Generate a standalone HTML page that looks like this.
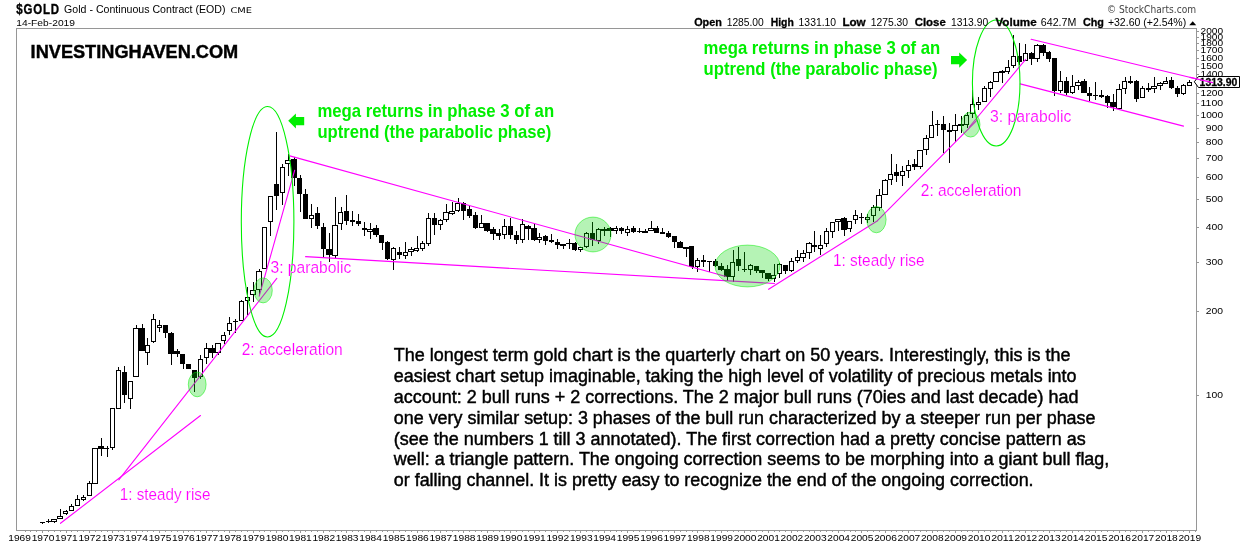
<!DOCTYPE html>
<html><head><meta charset="utf-8"><title>$GOLD Gold - Continuous Contract (EOD)</title>
<style>html,body{margin:0;padding:0;background:#fff}svg{display:block}text{font-family:"Liberation Sans",Arial,sans-serif}.m{fill:#f0f;font-size:16.3px;stroke:#fff;stroke-width:.15px;paint-order:fill stroke}.g{fill:#00ee00;font-weight:bold;font-size:18.5px}.p{fill:#000;font-size:18px;stroke:#000;stroke-width:.45px}.ax{fill:#000;font-size:9.7px}.hb{font-weight:bold;font-size:11px;stroke:#000;stroke-width:.3px}.hn{font-size:10.3px}</style></head><body>
<svg style="will-change:transform" width="1240" height="546" viewBox="0 0 1240 546">
<rect width="1240" height="546" fill="#fff"/>
<g shape-rendering="crispEdges" stroke="#969696" stroke-width="1" fill="none">
<rect x="16.5" y="28.5" width="1180.0" height="502.0"/>
<line x1="1196.5" y1="31.5" x2="1199.0" y2="31.5"/>
<line x1="1196.5" y1="37.5" x2="1199.0" y2="37.5"/>
<line x1="1196.5" y1="43.5" x2="1199.0" y2="43.5"/>
<line x1="1196.5" y1="50.5" x2="1199.0" y2="50.5"/>
<line x1="1196.5" y1="58.5" x2="1199.0" y2="58.5"/>
<line x1="1196.5" y1="66.5" x2="1199.0" y2="66.5"/>
<line x1="1196.5" y1="74.5" x2="1199.0" y2="74.5"/>
<line x1="1196.5" y1="83.5" x2="1199.0" y2="83.5"/>
<line x1="1196.5" y1="93.5" x2="1199.0" y2="93.5"/>
<line x1="1196.5" y1="103.5" x2="1199.0" y2="103.5"/>
<line x1="1196.5" y1="115.5" x2="1199.0" y2="115.5"/>
<line x1="1196.5" y1="128.5" x2="1199.0" y2="128.5"/>
<line x1="1196.5" y1="142.5" x2="1199.0" y2="142.5"/>
<line x1="1196.5" y1="158.5" x2="1199.0" y2="158.5"/>
<line x1="1196.5" y1="177.5" x2="1199.0" y2="177.5"/>
<line x1="1196.5" y1="199.5" x2="1199.0" y2="199.5"/>
<line x1="1196.5" y1="227.5" x2="1199.0" y2="227.5"/>
<line x1="1196.5" y1="262.5" x2="1199.0" y2="262.5"/>
<line x1="1196.5" y1="311.5" x2="1199.0" y2="311.5"/>
<line x1="1196.5" y1="395.5" x2="1199.0" y2="395.5"/>
<line x1="25.5" y1="530.5" x2="25.5" y2="532.0"/>
<line x1="30.5" y1="530.5" x2="30.5" y2="532.0"/>
<line x1="36.5" y1="530.5" x2="36.5" y2="532.0"/>
<line x1="42.5" y1="530.5" x2="42.5" y2="533.0"/>
<line x1="48.5" y1="530.5" x2="48.5" y2="532.0"/>
<line x1="54.5" y1="530.5" x2="54.5" y2="532.0"/>
<line x1="60.5" y1="530.5" x2="60.5" y2="532.0"/>
<line x1="66.5" y1="530.5" x2="66.5" y2="533.0"/>
<line x1="71.5" y1="530.5" x2="71.5" y2="532.0"/>
<line x1="77.5" y1="530.5" x2="77.5" y2="532.0"/>
<line x1="83.5" y1="530.5" x2="83.5" y2="532.0"/>
<line x1="89.5" y1="530.5" x2="89.5" y2="533.0"/>
<line x1="95.5" y1="530.5" x2="95.5" y2="532.0"/>
<line x1="101.5" y1="530.5" x2="101.5" y2="532.0"/>
<line x1="107.5" y1="530.5" x2="107.5" y2="532.0"/>
<line x1="112.5" y1="530.5" x2="112.5" y2="533.0"/>
<line x1="118.5" y1="530.5" x2="118.5" y2="532.0"/>
<line x1="124.5" y1="530.5" x2="124.5" y2="532.0"/>
<line x1="130.5" y1="530.5" x2="130.5" y2="532.0"/>
<line x1="136.5" y1="530.5" x2="136.5" y2="533.0"/>
<line x1="142.5" y1="530.5" x2="142.5" y2="532.0"/>
<line x1="147.5" y1="530.5" x2="147.5" y2="532.0"/>
<line x1="153.5" y1="530.5" x2="153.5" y2="532.0"/>
<line x1="159.5" y1="530.5" x2="159.5" y2="533.0"/>
<line x1="165.5" y1="530.5" x2="165.5" y2="532.0"/>
<line x1="171.5" y1="530.5" x2="171.5" y2="532.0"/>
<line x1="177.5" y1="530.5" x2="177.5" y2="532.0"/>
<line x1="183.5" y1="530.5" x2="183.5" y2="533.0"/>
<line x1="188.5" y1="530.5" x2="188.5" y2="532.0"/>
<line x1="194.5" y1="530.5" x2="194.5" y2="532.0"/>
<line x1="200.5" y1="530.5" x2="200.5" y2="532.0"/>
<line x1="206.5" y1="530.5" x2="206.5" y2="533.0"/>
<line x1="212.5" y1="530.5" x2="212.5" y2="532.0"/>
<line x1="218.5" y1="530.5" x2="218.5" y2="532.0"/>
<line x1="224.5" y1="530.5" x2="224.5" y2="532.0"/>
<line x1="229.5" y1="530.5" x2="229.5" y2="533.0"/>
<line x1="235.5" y1="530.5" x2="235.5" y2="532.0"/>
<line x1="241.5" y1="530.5" x2="241.5" y2="532.0"/>
<line x1="247.5" y1="530.5" x2="247.5" y2="532.0"/>
<line x1="253.5" y1="530.5" x2="253.5" y2="533.0"/>
<line x1="259.5" y1="530.5" x2="259.5" y2="532.0"/>
<line x1="264.5" y1="530.5" x2="264.5" y2="532.0"/>
<line x1="270.5" y1="530.5" x2="270.5" y2="532.0"/>
<line x1="276.5" y1="530.5" x2="276.5" y2="533.0"/>
<line x1="282.5" y1="530.5" x2="282.5" y2="532.0"/>
<line x1="288.5" y1="530.5" x2="288.5" y2="532.0"/>
<line x1="294.5" y1="530.5" x2="294.5" y2="532.0"/>
<line x1="300.5" y1="530.5" x2="300.5" y2="533.0"/>
<line x1="305.5" y1="530.5" x2="305.5" y2="532.0"/>
<line x1="311.5" y1="530.5" x2="311.5" y2="532.0"/>
<line x1="317.5" y1="530.5" x2="317.5" y2="532.0"/>
<line x1="323.5" y1="530.5" x2="323.5" y2="533.0"/>
<line x1="329.5" y1="530.5" x2="329.5" y2="532.0"/>
<line x1="335.5" y1="530.5" x2="335.5" y2="532.0"/>
<line x1="341.5" y1="530.5" x2="341.5" y2="532.0"/>
<line x1="346.5" y1="530.5" x2="346.5" y2="533.0"/>
<line x1="352.5" y1="530.5" x2="352.5" y2="532.0"/>
<line x1="358.5" y1="530.5" x2="358.5" y2="532.0"/>
<line x1="364.5" y1="530.5" x2="364.5" y2="532.0"/>
<line x1="370.5" y1="530.5" x2="370.5" y2="533.0"/>
<line x1="376.5" y1="530.5" x2="376.5" y2="532.0"/>
<line x1="382.5" y1="530.5" x2="382.5" y2="532.0"/>
<line x1="387.5" y1="530.5" x2="387.5" y2="532.0"/>
<line x1="393.5" y1="530.5" x2="393.5" y2="533.0"/>
<line x1="399.5" y1="530.5" x2="399.5" y2="532.0"/>
<line x1="405.5" y1="530.5" x2="405.5" y2="532.0"/>
<line x1="411.5" y1="530.5" x2="411.5" y2="532.0"/>
<line x1="417.5" y1="530.5" x2="417.5" y2="533.0"/>
<line x1="422.5" y1="530.5" x2="422.5" y2="532.0"/>
<line x1="428.5" y1="530.5" x2="428.5" y2="532.0"/>
<line x1="434.5" y1="530.5" x2="434.5" y2="532.0"/>
<line x1="440.5" y1="530.5" x2="440.5" y2="533.0"/>
<line x1="446.5" y1="530.5" x2="446.5" y2="532.0"/>
<line x1="452.5" y1="530.5" x2="452.5" y2="532.0"/>
<line x1="458.5" y1="530.5" x2="458.5" y2="532.0"/>
<line x1="463.5" y1="530.5" x2="463.5" y2="533.0"/>
<line x1="469.5" y1="530.5" x2="469.5" y2="532.0"/>
<line x1="475.5" y1="530.5" x2="475.5" y2="532.0"/>
<line x1="481.5" y1="530.5" x2="481.5" y2="532.0"/>
<line x1="487.5" y1="530.5" x2="487.5" y2="533.0"/>
<line x1="493.5" y1="530.5" x2="493.5" y2="532.0"/>
<line x1="499.5" y1="530.5" x2="499.5" y2="532.0"/>
<line x1="504.5" y1="530.5" x2="504.5" y2="532.0"/>
<line x1="510.5" y1="530.5" x2="510.5" y2="533.0"/>
<line x1="516.5" y1="530.5" x2="516.5" y2="532.0"/>
<line x1="522.5" y1="530.5" x2="522.5" y2="532.0"/>
<line x1="528.5" y1="530.5" x2="528.5" y2="532.0"/>
<line x1="534.5" y1="530.5" x2="534.5" y2="533.0"/>
<line x1="539.5" y1="530.5" x2="539.5" y2="532.0"/>
<line x1="545.5" y1="530.5" x2="545.5" y2="532.0"/>
<line x1="551.5" y1="530.5" x2="551.5" y2="532.0"/>
<line x1="557.5" y1="530.5" x2="557.5" y2="533.0"/>
<line x1="563.5" y1="530.5" x2="563.5" y2="532.0"/>
<line x1="569.5" y1="530.5" x2="569.5" y2="532.0"/>
<line x1="575.5" y1="530.5" x2="575.5" y2="532.0"/>
<line x1="580.5" y1="530.5" x2="580.5" y2="533.0"/>
<line x1="586.5" y1="530.5" x2="586.5" y2="532.0"/>
<line x1="592.5" y1="530.5" x2="592.5" y2="532.0"/>
<line x1="598.5" y1="530.5" x2="598.5" y2="532.0"/>
<line x1="604.5" y1="530.5" x2="604.5" y2="533.0"/>
<line x1="610.5" y1="530.5" x2="610.5" y2="532.0"/>
<line x1="616.5" y1="530.5" x2="616.5" y2="532.0"/>
<line x1="621.5" y1="530.5" x2="621.5" y2="532.0"/>
<line x1="627.5" y1="530.5" x2="627.5" y2="533.0"/>
<line x1="633.5" y1="530.5" x2="633.5" y2="532.0"/>
<line x1="639.5" y1="530.5" x2="639.5" y2="532.0"/>
<line x1="645.5" y1="530.5" x2="645.5" y2="532.0"/>
<line x1="651.5" y1="530.5" x2="651.5" y2="533.0"/>
<line x1="657.5" y1="530.5" x2="657.5" y2="532.0"/>
<line x1="662.5" y1="530.5" x2="662.5" y2="532.0"/>
<line x1="668.5" y1="530.5" x2="668.5" y2="532.0"/>
<line x1="674.5" y1="530.5" x2="674.5" y2="533.0"/>
<line x1="680.5" y1="530.5" x2="680.5" y2="532.0"/>
<line x1="686.5" y1="530.5" x2="686.5" y2="532.0"/>
<line x1="692.5" y1="530.5" x2="692.5" y2="532.0"/>
<line x1="697.5" y1="530.5" x2="697.5" y2="533.0"/>
<line x1="703.5" y1="530.5" x2="703.5" y2="532.0"/>
<line x1="709.5" y1="530.5" x2="709.5" y2="532.0"/>
<line x1="715.5" y1="530.5" x2="715.5" y2="532.0"/>
<line x1="721.5" y1="530.5" x2="721.5" y2="533.0"/>
<line x1="727.5" y1="530.5" x2="727.5" y2="532.0"/>
<line x1="733.5" y1="530.5" x2="733.5" y2="532.0"/>
<line x1="738.5" y1="530.5" x2="738.5" y2="532.0"/>
<line x1="744.5" y1="530.5" x2="744.5" y2="533.0"/>
<line x1="750.5" y1="530.5" x2="750.5" y2="532.0"/>
<line x1="756.5" y1="530.5" x2="756.5" y2="532.0"/>
<line x1="762.5" y1="530.5" x2="762.5" y2="532.0"/>
<line x1="768.5" y1="530.5" x2="768.5" y2="533.0"/>
<line x1="774.5" y1="530.5" x2="774.5" y2="532.0"/>
<line x1="779.5" y1="530.5" x2="779.5" y2="532.0"/>
<line x1="785.5" y1="530.5" x2="785.5" y2="532.0"/>
<line x1="791.5" y1="530.5" x2="791.5" y2="533.0"/>
<line x1="797.5" y1="530.5" x2="797.5" y2="532.0"/>
<line x1="803.5" y1="530.5" x2="803.5" y2="532.0"/>
<line x1="809.5" y1="530.5" x2="809.5" y2="532.0"/>
<line x1="814.5" y1="530.5" x2="814.5" y2="533.0"/>
<line x1="820.5" y1="530.5" x2="820.5" y2="532.0"/>
<line x1="826.5" y1="530.5" x2="826.5" y2="532.0"/>
<line x1="832.5" y1="530.5" x2="832.5" y2="532.0"/>
<line x1="838.5" y1="530.5" x2="838.5" y2="533.0"/>
<line x1="844.5" y1="530.5" x2="844.5" y2="532.0"/>
<line x1="850.5" y1="530.5" x2="850.5" y2="532.0"/>
<line x1="855.5" y1="530.5" x2="855.5" y2="532.0"/>
<line x1="861.5" y1="530.5" x2="861.5" y2="533.0"/>
<line x1="867.5" y1="530.5" x2="867.5" y2="532.0"/>
<line x1="873.5" y1="530.5" x2="873.5" y2="532.0"/>
<line x1="879.5" y1="530.5" x2="879.5" y2="532.0"/>
<line x1="885.5" y1="530.5" x2="885.5" y2="533.0"/>
<line x1="891.5" y1="530.5" x2="891.5" y2="532.0"/>
<line x1="896.5" y1="530.5" x2="896.5" y2="532.0"/>
<line x1="902.5" y1="530.5" x2="902.5" y2="532.0"/>
<line x1="908.5" y1="530.5" x2="908.5" y2="533.0"/>
<line x1="914.5" y1="530.5" x2="914.5" y2="532.0"/>
<line x1="920.5" y1="530.5" x2="920.5" y2="532.0"/>
<line x1="926.5" y1="530.5" x2="926.5" y2="532.0"/>
<line x1="932.5" y1="530.5" x2="932.5" y2="533.0"/>
<line x1="937.5" y1="530.5" x2="937.5" y2="532.0"/>
<line x1="943.5" y1="530.5" x2="943.5" y2="532.0"/>
<line x1="949.5" y1="530.5" x2="949.5" y2="532.0"/>
<line x1="955.5" y1="530.5" x2="955.5" y2="533.0"/>
<line x1="961.5" y1="530.5" x2="961.5" y2="532.0"/>
<line x1="967.5" y1="530.5" x2="967.5" y2="532.0"/>
<line x1="972.5" y1="530.5" x2="972.5" y2="532.0"/>
<line x1="978.5" y1="530.5" x2="978.5" y2="533.0"/>
<line x1="984.5" y1="530.5" x2="984.5" y2="532.0"/>
<line x1="990.5" y1="530.5" x2="990.5" y2="532.0"/>
<line x1="996.5" y1="530.5" x2="996.5" y2="532.0"/>
<line x1="1002.5" y1="530.5" x2="1002.5" y2="533.0"/>
<line x1="1008.5" y1="530.5" x2="1008.5" y2="532.0"/>
<line x1="1013.5" y1="530.5" x2="1013.5" y2="532.0"/>
<line x1="1019.5" y1="530.5" x2="1019.5" y2="532.0"/>
<line x1="1025.5" y1="530.5" x2="1025.5" y2="533.0"/>
<line x1="1031.5" y1="530.5" x2="1031.5" y2="532.0"/>
<line x1="1037.5" y1="530.5" x2="1037.5" y2="532.0"/>
<line x1="1043.5" y1="530.5" x2="1043.5" y2="532.0"/>
<line x1="1049.5" y1="530.5" x2="1049.5" y2="533.0"/>
<line x1="1054.5" y1="530.5" x2="1054.5" y2="532.0"/>
<line x1="1060.5" y1="530.5" x2="1060.5" y2="532.0"/>
<line x1="1066.5" y1="530.5" x2="1066.5" y2="532.0"/>
<line x1="1072.5" y1="530.5" x2="1072.5" y2="533.0"/>
<line x1="1078.5" y1="530.5" x2="1078.5" y2="532.0"/>
<line x1="1084.5" y1="530.5" x2="1084.5" y2="532.0"/>
<line x1="1089.5" y1="530.5" x2="1089.5" y2="532.0"/>
<line x1="1095.5" y1="530.5" x2="1095.5" y2="533.0"/>
<line x1="1101.5" y1="530.5" x2="1101.5" y2="532.0"/>
<line x1="1107.5" y1="530.5" x2="1107.5" y2="532.0"/>
<line x1="1113.5" y1="530.5" x2="1113.5" y2="532.0"/>
<line x1="1119.5" y1="530.5" x2="1119.5" y2="533.0"/>
<line x1="1125.5" y1="530.5" x2="1125.5" y2="532.0"/>
<line x1="1130.5" y1="530.5" x2="1130.5" y2="532.0"/>
<line x1="1136.5" y1="530.5" x2="1136.5" y2="532.0"/>
<line x1="1142.5" y1="530.5" x2="1142.5" y2="533.0"/>
<line x1="1148.5" y1="530.5" x2="1148.5" y2="532.0"/>
<line x1="1154.5" y1="530.5" x2="1154.5" y2="532.0"/>
<line x1="1160.5" y1="530.5" x2="1160.5" y2="532.0"/>
<line x1="1166.5" y1="530.5" x2="1166.5" y2="533.0"/>
<line x1="1171.5" y1="530.5" x2="1171.5" y2="532.0"/>
<line x1="1177.5" y1="530.5" x2="1177.5" y2="532.0"/>
<line x1="1183.5" y1="530.5" x2="1183.5" y2="532.0"/>
<line x1="1189.5" y1="530.5" x2="1189.5" y2="533.0"/>
<line x1="1195.5" y1="530.5" x2="1195.5" y2="532.0"/>
</g>
<g class="ax">
<text x="1200.5" y="34.0" textLength="22.6" lengthAdjust="spacingAndGlyphs">2000</text>
<text x="1200.5" y="40.0" textLength="22.6" lengthAdjust="spacingAndGlyphs">1900</text>
<text x="1200.5" y="46.0" textLength="22.6" lengthAdjust="spacingAndGlyphs">1800</text>
<text x="1200.5" y="53.0" textLength="22.6" lengthAdjust="spacingAndGlyphs">1700</text>
<text x="1200.5" y="61.0" textLength="22.6" lengthAdjust="spacingAndGlyphs">1600</text>
<text x="1200.5" y="69.0" textLength="22.6" lengthAdjust="spacingAndGlyphs">1500</text>
<text x="1200.5" y="77.0" textLength="22.6" lengthAdjust="spacingAndGlyphs">1400</text>
<text x="1200.5" y="96.0" textLength="22.6" lengthAdjust="spacingAndGlyphs">1200</text>
<text x="1200.5" y="106.0" textLength="22.6" lengthAdjust="spacingAndGlyphs">1100</text>
<text x="1200.5" y="118.0" textLength="22.6" lengthAdjust="spacingAndGlyphs">1000</text>
<text x="1205.8" y="131.0" textLength="17.3" lengthAdjust="spacingAndGlyphs">900</text>
<text x="1205.8" y="145.0" textLength="17.3" lengthAdjust="spacingAndGlyphs">800</text>
<text x="1205.8" y="161.0" textLength="17.3" lengthAdjust="spacingAndGlyphs">700</text>
<text x="1205.8" y="180.0" textLength="17.3" lengthAdjust="spacingAndGlyphs">600</text>
<text x="1205.8" y="202.0" textLength="17.3" lengthAdjust="spacingAndGlyphs">500</text>
<text x="1205.8" y="230.0" textLength="17.3" lengthAdjust="spacingAndGlyphs">400</text>
<text x="1205.8" y="265.0" textLength="17.3" lengthAdjust="spacingAndGlyphs">300</text>
<text x="1205.8" y="314.0" textLength="17.3" lengthAdjust="spacingAndGlyphs">200</text>
<text x="1205.8" y="398.0" textLength="17.3" lengthAdjust="spacingAndGlyphs">100</text>
<text x="19.6" y="540.7" text-anchor="middle" textLength="22.7" lengthAdjust="spacingAndGlyphs">1969</text>
<text x="43.0" y="540.7" text-anchor="middle" textLength="22.7" lengthAdjust="spacingAndGlyphs">1970</text>
<text x="66.4" y="540.7" text-anchor="middle" textLength="22.7" lengthAdjust="spacingAndGlyphs">1971</text>
<text x="89.8" y="540.7" text-anchor="middle" textLength="22.7" lengthAdjust="spacingAndGlyphs">1972</text>
<text x="113.2" y="540.7" text-anchor="middle" textLength="22.7" lengthAdjust="spacingAndGlyphs">1973</text>
<text x="136.6" y="540.7" text-anchor="middle" textLength="22.7" lengthAdjust="spacingAndGlyphs">1974</text>
<text x="160.0" y="540.7" text-anchor="middle" textLength="22.7" lengthAdjust="spacingAndGlyphs">1975</text>
<text x="183.4" y="540.7" text-anchor="middle" textLength="22.7" lengthAdjust="spacingAndGlyphs">1976</text>
<text x="206.8" y="540.7" text-anchor="middle" textLength="22.7" lengthAdjust="spacingAndGlyphs">1977</text>
<text x="230.2" y="540.7" text-anchor="middle" textLength="22.7" lengthAdjust="spacingAndGlyphs">1978</text>
<text x="253.6" y="540.7" text-anchor="middle" textLength="22.7" lengthAdjust="spacingAndGlyphs">1979</text>
<text x="277.0" y="540.7" text-anchor="middle" textLength="22.7" lengthAdjust="spacingAndGlyphs">1980</text>
<text x="300.4" y="540.7" text-anchor="middle" textLength="22.7" lengthAdjust="spacingAndGlyphs">1981</text>
<text x="323.8" y="540.7" text-anchor="middle" textLength="22.7" lengthAdjust="spacingAndGlyphs">1982</text>
<text x="347.2" y="540.7" text-anchor="middle" textLength="22.7" lengthAdjust="spacingAndGlyphs">1983</text>
<text x="370.6" y="540.7" text-anchor="middle" textLength="22.7" lengthAdjust="spacingAndGlyphs">1984</text>
<text x="394.0" y="540.7" text-anchor="middle" textLength="22.7" lengthAdjust="spacingAndGlyphs">1985</text>
<text x="417.4" y="540.7" text-anchor="middle" textLength="22.7" lengthAdjust="spacingAndGlyphs">1986</text>
<text x="440.8" y="540.7" text-anchor="middle" textLength="22.7" lengthAdjust="spacingAndGlyphs">1987</text>
<text x="464.2" y="540.7" text-anchor="middle" textLength="22.7" lengthAdjust="spacingAndGlyphs">1988</text>
<text x="487.6" y="540.7" text-anchor="middle" textLength="22.7" lengthAdjust="spacingAndGlyphs">1989</text>
<text x="511.0" y="540.7" text-anchor="middle" textLength="22.7" lengthAdjust="spacingAndGlyphs">1990</text>
<text x="534.4" y="540.7" text-anchor="middle" textLength="22.7" lengthAdjust="spacingAndGlyphs">1991</text>
<text x="557.8" y="540.7" text-anchor="middle" textLength="22.7" lengthAdjust="spacingAndGlyphs">1992</text>
<text x="581.3" y="540.7" text-anchor="middle" textLength="22.7" lengthAdjust="spacingAndGlyphs">1993</text>
<text x="604.7" y="540.7" text-anchor="middle" textLength="22.7" lengthAdjust="spacingAndGlyphs">1994</text>
<text x="628.1" y="540.7" text-anchor="middle" textLength="22.7" lengthAdjust="spacingAndGlyphs">1995</text>
<text x="651.5" y="540.7" text-anchor="middle" textLength="22.7" lengthAdjust="spacingAndGlyphs">1996</text>
<text x="674.9" y="540.7" text-anchor="middle" textLength="22.7" lengthAdjust="spacingAndGlyphs">1997</text>
<text x="698.3" y="540.7" text-anchor="middle" textLength="22.7" lengthAdjust="spacingAndGlyphs">1998</text>
<text x="721.7" y="540.7" text-anchor="middle" textLength="22.7" lengthAdjust="spacingAndGlyphs">1999</text>
<text x="745.1" y="540.7" text-anchor="middle" textLength="22.7" lengthAdjust="spacingAndGlyphs">2000</text>
<text x="768.5" y="540.7" text-anchor="middle" textLength="22.7" lengthAdjust="spacingAndGlyphs">2001</text>
<text x="791.9" y="540.7" text-anchor="middle" textLength="22.7" lengthAdjust="spacingAndGlyphs">2002</text>
<text x="815.3" y="540.7" text-anchor="middle" textLength="22.7" lengthAdjust="spacingAndGlyphs">2003</text>
<text x="838.7" y="540.7" text-anchor="middle" textLength="22.7" lengthAdjust="spacingAndGlyphs">2004</text>
<text x="862.1" y="540.7" text-anchor="middle" textLength="22.7" lengthAdjust="spacingAndGlyphs">2005</text>
<text x="885.5" y="540.7" text-anchor="middle" textLength="22.7" lengthAdjust="spacingAndGlyphs">2006</text>
<text x="908.9" y="540.7" text-anchor="middle" textLength="22.7" lengthAdjust="spacingAndGlyphs">2007</text>
<text x="932.3" y="540.7" text-anchor="middle" textLength="22.7" lengthAdjust="spacingAndGlyphs">2008</text>
<text x="955.7" y="540.7" text-anchor="middle" textLength="22.7" lengthAdjust="spacingAndGlyphs">2009</text>
<text x="979.1" y="540.7" text-anchor="middle" textLength="22.7" lengthAdjust="spacingAndGlyphs">2010</text>
<text x="1002.5" y="540.7" text-anchor="middle" textLength="22.7" lengthAdjust="spacingAndGlyphs">2011</text>
<text x="1025.9" y="540.7" text-anchor="middle" textLength="22.7" lengthAdjust="spacingAndGlyphs">2012</text>
<text x="1049.3" y="540.7" text-anchor="middle" textLength="22.7" lengthAdjust="spacingAndGlyphs">2013</text>
<text x="1072.7" y="540.7" text-anchor="middle" textLength="22.7" lengthAdjust="spacingAndGlyphs">2014</text>
<text x="1096.1" y="540.7" text-anchor="middle" textLength="22.7" lengthAdjust="spacingAndGlyphs">2015</text>
<text x="1119.5" y="540.7" text-anchor="middle" textLength="22.7" lengthAdjust="spacingAndGlyphs">2016</text>
<text x="1142.9" y="540.7" text-anchor="middle" textLength="22.7" lengthAdjust="spacingAndGlyphs">2017</text>
<text x="1166.4" y="540.7" text-anchor="middle" textLength="22.7" lengthAdjust="spacingAndGlyphs">2018</text>
<text x="1189.8" y="540.7" text-anchor="middle" textLength="22.7" lengthAdjust="spacingAndGlyphs">2019</text>
</g>
<g shape-rendering="crispEdges" stroke="#000" stroke-width="1">
<line x1="42.5" y1="521.9" x2="42.5" y2="523.5"/>
<line x1="40" y1="522.4" x2="45" y2="522.4"/>
<line x1="48.5" y1="518.5" x2="48.5" y2="522.6"/>
<line x1="46" y1="521.3" x2="51" y2="521.3"/>
<line x1="54.5" y1="518.6" x2="54.5" y2="522.5"/>
<rect x="51.5" y="519.5" width="5" height="2.0" fill="#fff"/>
<line x1="60.5" y1="509.3" x2="60.5" y2="518.3"/>
<rect x="57.5" y="516.5" width="5" height="2.0" fill="#fff"/>
<line x1="66.5" y1="509.5" x2="66.5" y2="515.3"/>
<rect x="63.5" y="511.5" width="4" height="2.0" fill="#fff"/>
<line x1="71.5" y1="503.5" x2="71.5" y2="510.6"/>
<rect x="69.5" y="506.5" width="4" height="4.0" fill="#fff"/>
<line x1="77.5" y1="495.2" x2="77.5" y2="506.4"/>
<rect x="75.5" y="499.5" width="4" height="6.0" fill="#fff"/>
<line x1="83.5" y1="495.3" x2="83.5" y2="500.7"/>
<rect x="81.5" y="497.5" width="4" height="2.0" fill="#fff"/>
<line x1="89.5" y1="481.2" x2="89.5" y2="495.6"/>
<rect x="87.5" y="483.5" width="4" height="12.0" fill="#fff"/>
<line x1="95.5" y1="448.2" x2="95.5" y2="483.5"/>
<rect x="92.5" y="448.5" width="5" height="35.0" fill="#fff"/>
<line x1="101.5" y1="438.3" x2="101.5" y2="455.9"/>
<rect x="98.5" y="446.5" width="5" height="2.0" fill="#000"/>
<line x1="107.5" y1="446.2" x2="107.5" y2="456.9"/>
<line x1="104" y1="448.6" x2="109" y2="448.6"/>
<line x1="112.5" y1="408.3" x2="112.5" y2="449.6"/>
<rect x="110.5" y="408.5" width="4" height="39.0" fill="#fff"/>
<line x1="118.5" y1="367.3" x2="118.5" y2="409.3"/>
<rect x="116.5" y="370.5" width="4" height="38.0" fill="#fff"/>
<line x1="124.5" y1="366.0" x2="124.5" y2="403.4"/>
<rect x="122.5" y="372.5" width="4" height="22.0" fill="#000"/>
<line x1="130.5" y1="381.3" x2="130.5" y2="408.6"/>
<rect x="128.5" y="381.5" width="4" height="17.0" fill="#fff"/>
<line x1="136.5" y1="325.1" x2="136.5" y2="376.7"/>
<rect x="133.5" y="328.5" width="5" height="48.0" fill="#fff"/>
<line x1="142.5" y1="324.0" x2="142.5" y2="350.8"/>
<rect x="139.5" y="328.5" width="5" height="22.0" fill="#000"/>
<line x1="147.5" y1="338.0" x2="147.5" y2="364.7"/>
<rect x="145.5" y="345.5" width="4" height="7.0" fill="#fff"/>
<line x1="153.5" y1="314.1" x2="153.5" y2="342.6"/>
<rect x="151.5" y="319.5" width="4" height="22.0" fill="#fff"/>
<line x1="159.5" y1="320.2" x2="159.5" y2="331.7"/>
<rect x="157.5" y="325.5" width="4" height="2.0" fill="#fff"/>
<line x1="165.5" y1="325.1" x2="165.5" y2="337.6"/>
<rect x="163.5" y="325.5" width="4" height="7.0" fill="#000"/>
<line x1="171.5" y1="331.7" x2="171.5" y2="364.7"/>
<rect x="168.5" y="333.5" width="5" height="20.0" fill="#000"/>
<line x1="177.5" y1="349.2" x2="177.5" y2="356.9"/>
<rect x="174.5" y="351.5" width="5" height="2.0" fill="#000"/>
<line x1="183.5" y1="354.1" x2="183.5" y2="368.7"/>
<rect x="180.5" y="354.5" width="4" height="9.0" fill="#000"/>
<line x1="188.5" y1="364.2" x2="188.5" y2="369.4"/>
<rect x="186.5" y="364.5" width="4" height="4.0" fill="#000"/>
<line x1="194.5" y1="370.4" x2="194.5" y2="391.6"/>
<rect x="192.5" y="370.5" width="4" height="7.0" fill="#000"/>
<line x1="200.5" y1="354.8" x2="200.5" y2="379.2"/>
<rect x="198.5" y="359.5" width="4" height="17.0" fill="#fff"/>
<line x1="206.5" y1="343.0" x2="206.5" y2="363.6"/>
<rect x="204.5" y="348.5" width="4" height="9.0" fill="#fff"/>
<line x1="212.5" y1="344.6" x2="212.5" y2="357.8"/>
<rect x="209.5" y="348.5" width="5" height="4.0" fill="#000"/>
<line x1="218.5" y1="342.5" x2="218.5" y2="354.8"/>
<rect x="215.5" y="343.5" width="5" height="9.0" fill="#fff"/>
<line x1="224.5" y1="331.9" x2="224.5" y2="343.8"/>
<rect x="221.5" y="335.5" width="4" height="5.0" fill="#fff"/>
<line x1="229.5" y1="317.3" x2="229.5" y2="334.7"/>
<rect x="227.5" y="323.5" width="4" height="7.0" fill="#fff"/>
<line x1="235.5" y1="319.2" x2="235.5" y2="332.7"/>
<line x1="233" y1="321.2" x2="238" y2="321.2"/>
<line x1="241.5" y1="299.7" x2="241.5" y2="321.2"/>
<rect x="239.5" y="301.5" width="4" height="19.0" fill="#fff"/>
<line x1="247.5" y1="287.3" x2="247.5" y2="314.6"/>
<rect x="245.5" y="297.5" width="4" height="3.0" fill="#fff"/>
<line x1="253.5" y1="282.1" x2="253.5" y2="301.5"/>
<rect x="250.5" y="290.5" width="5" height="4.0" fill="#fff"/>
<line x1="259.5" y1="268.5" x2="259.5" y2="294.8"/>
<rect x="256.5" y="271.5" width="5" height="18.0" fill="#fff"/>
<line x1="264.5" y1="227.3" x2="264.5" y2="269.4"/>
<rect x="262.5" y="227.5" width="4" height="41.0" fill="#fff"/>
<line x1="270.5" y1="196.2" x2="270.5" y2="235.6"/>
<rect x="268.5" y="196.5" width="4" height="25.0" fill="#fff"/>
<line x1="276.5" y1="132.1" x2="276.5" y2="209.7"/>
<rect x="274.5" y="184.5" width="4" height="11.0" fill="#000"/>
<line x1="282.5" y1="164.1" x2="282.5" y2="204.6"/>
<rect x="280.5" y="167.5" width="4" height="25.0" fill="#fff"/>
<line x1="288.5" y1="153.6" x2="288.5" y2="176.4"/>
<rect x="285.5" y="160.5" width="5" height="3.0" fill="#fff"/>
<line x1="294.5" y1="157.4" x2="294.5" y2="186.4"/>
<rect x="291.5" y="159.5" width="5" height="18.0" fill="#000"/>
<line x1="300.5" y1="175.1" x2="300.5" y2="211.9"/>
<rect x="297.5" y="178.5" width="4" height="15.0" fill="#000"/>
<line x1="305.5" y1="189.2" x2="305.5" y2="219.3"/>
<rect x="303.5" y="194.5" width="4" height="24.0" fill="#000"/>
<line x1="311.5" y1="204.2" x2="311.5" y2="227.6"/>
<rect x="309.5" y="215.5" width="4" height="3.0" fill="#fff"/>
<line x1="317.5" y1="207.1" x2="317.5" y2="229.1"/>
<rect x="315.5" y="213.5" width="4" height="12.0" fill="#000"/>
<line x1="323.5" y1="223.1" x2="323.5" y2="256.8"/>
<rect x="321.5" y="227.5" width="4" height="21.0" fill="#000"/>
<line x1="329.5" y1="233.4" x2="329.5" y2="262.3"/>
<rect x="326.5" y="249.5" width="5" height="5.0" fill="#000"/>
<line x1="335.5" y1="197.2" x2="335.5" y2="258.1"/>
<rect x="332.5" y="225.5" width="5" height="30.0" fill="#fff"/>
<line x1="341.5" y1="207.4" x2="341.5" y2="230.3"/>
<rect x="338.5" y="212.5" width="4" height="11.0" fill="#fff"/>
<line x1="346.5" y1="195.1" x2="346.5" y2="224.8"/>
<rect x="344.5" y="211.5" width="4" height="9.0" fill="#000"/>
<line x1="352.5" y1="211.1" x2="352.5" y2="226.3"/>
<rect x="350.5" y="220.5" width="4" height="1.0" fill="#000"/>
<line x1="358.5" y1="214.2" x2="358.5" y2="226.1"/>
<rect x="356.5" y="221.5" width="4" height="2.0" fill="#000"/>
<line x1="364.5" y1="222.1" x2="364.5" y2="235.8"/>
<rect x="362.5" y="228.5" width="4" height="1.0" fill="#000"/>
<line x1="370.5" y1="223.0" x2="370.5" y2="238.5"/>
<rect x="367.5" y="229.5" width="5" height="2.0" fill="#fff"/>
<line x1="376.5" y1="224.8" x2="376.5" y2="236.7"/>
<rect x="373.5" y="228.5" width="5" height="6.0" fill="#000"/>
<line x1="382.5" y1="234.9" x2="382.5" y2="249.5"/>
<rect x="379.5" y="235.5" width="4" height="7.0" fill="#000"/>
<line x1="387.5" y1="240.9" x2="387.5" y2="260.0"/>
<rect x="385.5" y="242.5" width="4" height="16.0" fill="#000"/>
<line x1="393.5" y1="246.8" x2="393.5" y2="269.7"/>
<rect x="391.5" y="248.5" width="4" height="11.0" fill="#fff"/>
<line x1="399.5" y1="247.1" x2="399.5" y2="258.7"/>
<rect x="397.5" y="252.5" width="4" height="2.0" fill="#000"/>
<line x1="405.5" y1="242.2" x2="405.5" y2="258.8"/>
<rect x="403.5" y="252.5" width="4" height="3.0" fill="#fff"/>
<line x1="411.5" y1="247.3" x2="411.5" y2="255.5"/>
<rect x="408.5" y="249.5" width="5" height="2.0" fill="#fff"/>
<line x1="417.5" y1="236.4" x2="417.5" y2="251.8"/>
<rect x="414.5" y="248.5" width="4" height="2.0" fill="#fff"/>
<line x1="422.5" y1="241.4" x2="422.5" y2="250.5"/>
<rect x="420.5" y="243.5" width="4" height="5.0" fill="#fff"/>
<line x1="428.5" y1="213.3" x2="428.5" y2="245.6"/>
<rect x="426.5" y="218.5" width="4" height="25.0" fill="#fff"/>
<line x1="434.5" y1="213.3" x2="434.5" y2="234.6"/>
<rect x="432.5" y="218.5" width="4" height="6.0" fill="#000"/>
<line x1="440.5" y1="218.5" x2="440.5" y2="229.5"/>
<rect x="438.5" y="220.5" width="4" height="4.0" fill="#fff"/>
<line x1="446.5" y1="204.4" x2="446.5" y2="221.8"/>
<rect x="443.5" y="212.5" width="5" height="7.0" fill="#fff"/>
<line x1="452.5" y1="201.6" x2="452.5" y2="214.8"/>
<rect x="449.5" y="211.5" width="5" height="2.0" fill="#fff"/>
<line x1="458.5" y1="197.9" x2="458.5" y2="211.5"/>
<rect x="455.5" y="203.5" width="4" height="7.0" fill="#fff"/>
<line x1="463.5" y1="201.6" x2="463.5" y2="219.9"/>
<rect x="461.5" y="203.5" width="4" height="7.0" fill="#000"/>
<line x1="469.5" y1="206.2" x2="469.5" y2="217.9"/>
<rect x="467.5" y="209.5" width="4" height="6.0" fill="#000"/>
<line x1="475.5" y1="212.0" x2="475.5" y2="229.1"/>
<rect x="473.5" y="215.5" width="4" height="12.0" fill="#000"/>
<line x1="481.5" y1="215.2" x2="481.5" y2="227.6"/>
<rect x="479.5" y="223.5" width="4" height="4.0" fill="#fff"/>
<line x1="487.5" y1="222.5" x2="487.5" y2="232.2"/>
<rect x="484.5" y="223.5" width="5" height="7.0" fill="#000"/>
<line x1="493.5" y1="226.7" x2="493.5" y2="240.1"/>
<rect x="490.5" y="229.5" width="5" height="4.0" fill="#000"/>
<line x1="499.5" y1="228.5" x2="499.5" y2="240.1"/>
<rect x="496.5" y="233.5" width="4" height="2.0" fill="#000"/>
<line x1="504.5" y1="219.2" x2="504.5" y2="238.7"/>
<rect x="502.5" y="226.5" width="4" height="8.0" fill="#fff"/>
<line x1="510.5" y1="217.5" x2="510.5" y2="238.7"/>
<rect x="508.5" y="226.5" width="4" height="8.0" fill="#000"/>
<line x1="516.5" y1="231.2" x2="516.5" y2="244.0"/>
<rect x="514.5" y="235.5" width="4" height="4.0" fill="#000"/>
<line x1="522.5" y1="219.3" x2="522.5" y2="242.7"/>
<rect x="520.5" y="224.5" width="4" height="15.0" fill="#fff"/>
<line x1="528.5" y1="224.8" x2="528.5" y2="239.8"/>
<rect x="525.5" y="226.5" width="5" height="2.0" fill="#000"/>
<line x1="534.5" y1="223.9" x2="534.5" y2="241.3"/>
<rect x="531.5" y="228.5" width="5" height="11.0" fill="#000"/>
<line x1="539.5" y1="233.4" x2="539.5" y2="243.1"/>
<rect x="537.5" y="237.5" width="4" height="2.0" fill="#fff"/>
<line x1="545.5" y1="234.9" x2="545.5" y2="244.6"/>
<rect x="543.5" y="236.5" width="4" height="4.0" fill="#000"/>
<line x1="551.5" y1="234.0" x2="551.5" y2="243.1"/>
<rect x="549.5" y="240.5" width="4" height="1.0" fill="#000"/>
<line x1="557.5" y1="239.1" x2="557.5" y2="249.0"/>
<rect x="555.5" y="242.5" width="4" height="2.0" fill="#000"/>
<line x1="563.5" y1="244.0" x2="563.5" y2="248.6"/>
<rect x="560.5" y="244.5" width="5" height="1.0" fill="#000"/>
<line x1="569.5" y1="238.5" x2="569.5" y2="249.0"/>
<line x1="566" y1="243.7" x2="572" y2="243.7"/>
<line x1="575.5" y1="241.8" x2="575.5" y2="250.8"/>
<rect x="572.5" y="243.5" width="4" height="6.0" fill="#000"/>
<line x1="580.5" y1="246.8" x2="580.5" y2="251.9"/>
<rect x="578.5" y="247.5" width="4" height="2.0" fill="#fff"/>
<line x1="586.5" y1="231.8" x2="586.5" y2="248.2"/>
<rect x="584.5" y="233.5" width="4" height="13.0" fill="#fff"/>
<line x1="592.5" y1="222.3" x2="592.5" y2="245.9"/>
<rect x="590.5" y="233.5" width="4" height="6.0" fill="#000"/>
<line x1="598.5" y1="228.3" x2="598.5" y2="243.5"/>
<rect x="596.5" y="229.5" width="4" height="11.0" fill="#fff"/>
<line x1="604.5" y1="227.3" x2="604.5" y2="235.8"/>
<rect x="601.5" y="229.5" width="5" height="1.0" fill="#000"/>
<line x1="610.5" y1="227.1" x2="610.5" y2="236.7"/>
<rect x="607.5" y="228.5" width="5" height="2.0" fill="#000"/>
<line x1="616.5" y1="226.3" x2="616.5" y2="234.0"/>
<rect x="613.5" y="228.5" width="4" height="2.0" fill="#fff"/>
<line x1="621.5" y1="226.6" x2="621.5" y2="233.6"/>
<rect x="619.5" y="228.5" width="4" height="2.0" fill="#000"/>
<line x1="627.5" y1="226.3" x2="627.5" y2="235.8"/>
<rect x="625.5" y="229.5" width="4" height="3.0" fill="#fff"/>
<line x1="633.5" y1="226.3" x2="633.5" y2="233.0"/>
<rect x="631.5" y="228.5" width="4" height="3.0" fill="#000"/>
<line x1="639.5" y1="228.1" x2="639.5" y2="233.0"/>
<line x1="637" y1="231.2" x2="642" y2="231.2"/>
<line x1="645.5" y1="228.8" x2="645.5" y2="233.0"/>
<rect x="642.5" y="231.5" width="5" height="1.0" fill="#000"/>
<line x1="651.5" y1="221.1" x2="651.5" y2="230.7"/>
<rect x="648.5" y="228.5" width="5" height="2.0" fill="#fff"/>
<line x1="657.5" y1="225.7" x2="657.5" y2="232.5"/>
<rect x="654.5" y="228.5" width="4" height="4.0" fill="#000"/>
<line x1="662.5" y1="228.1" x2="662.5" y2="233.6"/>
<rect x="660.5" y="232.5" width="4" height="1.0" fill="#000"/>
<line x1="668.5" y1="231.2" x2="668.5" y2="238.0"/>
<rect x="666.5" y="233.5" width="4" height="3.0" fill="#000"/>
<line x1="674.5" y1="236.2" x2="674.5" y2="247.7"/>
<rect x="672.5" y="236.5" width="4" height="5.0" fill="#000"/>
<line x1="680.5" y1="241.3" x2="680.5" y2="248.2"/>
<rect x="677.5" y="242.5" width="5" height="5.0" fill="#000"/>
<line x1="686.5" y1="246.8" x2="686.5" y2="256.8"/>
<rect x="683.5" y="247.5" width="5" height="1.0" fill="#000"/>
<line x1="692.5" y1="246.3" x2="692.5" y2="268.5"/>
<rect x="689.5" y="246.5" width="4" height="20.0" fill="#000"/>
<line x1="697.5" y1="258.0" x2="697.5" y2="271.6"/>
<rect x="695.5" y="260.5" width="4" height="6.0" fill="#fff"/>
<line x1="703.5" y1="254.9" x2="703.5" y2="266.8"/>
<rect x="701.5" y="260.5" width="4" height="1.0" fill="#000"/>
<line x1="709.5" y1="261.3" x2="709.5" y2="271.9"/>
<line x1="707" y1="261.8" x2="712" y2="261.8"/>
<line x1="715.5" y1="259.1" x2="715.5" y2="267.1"/>
<rect x="713.5" y="261.5" width="4" height="4.0" fill="#000"/>
<line x1="721.5" y1="263.1" x2="721.5" y2="270.8"/>
<rect x="718.5" y="266.5" width="5" height="3.0" fill="#000"/>
<line x1="727.5" y1="264.9" x2="727.5" y2="280.5"/>
<rect x="724.5" y="269.5" width="5" height="7.0" fill="#000"/>
<line x1="733.5" y1="250.3" x2="733.5" y2="282.3"/>
<rect x="730.5" y="262.5" width="4" height="14.0" fill="#fff"/>
<line x1="738.5" y1="246.6" x2="738.5" y2="271.4"/>
<rect x="736.5" y="259.5" width="4" height="6.0" fill="#000"/>
<line x1="744.5" y1="252.1" x2="744.5" y2="271.9"/>
<line x1="742" y1="269.5" x2="747" y2="269.5"/>
<line x1="750.5" y1="263.5" x2="750.5" y2="274.5"/>
<rect x="748.5" y="265.5" width="4" height="4.0" fill="#fff"/>
<line x1="756.5" y1="266.4" x2="756.5" y2="272.6"/>
<rect x="754.5" y="266.5" width="4" height="4.0" fill="#000"/>
<line x1="762.5" y1="270.4" x2="762.5" y2="277.8"/>
<rect x="759.5" y="270.5" width="5" height="2.0" fill="#000"/>
<line x1="768.5" y1="273.2" x2="768.5" y2="281.4"/>
<rect x="765.5" y="273.5" width="5" height="5.0" fill="#000"/>
<line x1="774.5" y1="264.0" x2="774.5" y2="281.8"/>
<rect x="771.5" y="275.5" width="4" height="3.0" fill="#fff"/>
<line x1="779.5" y1="263.1" x2="779.5" y2="278.1"/>
<rect x="777.5" y="264.5" width="4" height="9.0" fill="#fff"/>
<line x1="785.5" y1="264.5" x2="785.5" y2="273.5"/>
<rect x="783.5" y="265.5" width="4" height="5.0" fill="#000"/>
<line x1="791.5" y1="258.3" x2="791.5" y2="272.2"/>
<rect x="789.5" y="261.5" width="4" height="9.0" fill="#fff"/>
<line x1="797.5" y1="250.0" x2="797.5" y2="262.8"/>
<rect x="795.5" y="257.5" width="4" height="3.0" fill="#fff"/>
<line x1="803.5" y1="250.1" x2="803.5" y2="261.5"/>
<rect x="800.5" y="253.5" width="5" height="4.0" fill="#fff"/>
<line x1="809.5" y1="241.9" x2="809.5" y2="258.8"/>
<rect x="806.5" y="243.5" width="5" height="9.0" fill="#fff"/>
<line x1="814.5" y1="231.3" x2="814.5" y2="251.8"/>
<rect x="812.5" y="245.5" width="4" height="1.0" fill="#000"/>
<line x1="820.5" y1="234.9" x2="820.5" y2="254.7"/>
<rect x="818.5" y="245.5" width="4" height="3.0" fill="#fff"/>
<line x1="826.5" y1="228.0" x2="826.5" y2="246.8"/>
<rect x="824.5" y="231.5" width="4" height="12.0" fill="#fff"/>
<line x1="832.5" y1="222.1" x2="832.5" y2="237.7"/>
<rect x="830.5" y="222.5" width="4" height="9.0" fill="#fff"/>
<line x1="838.5" y1="218.5" x2="838.5" y2="230.9"/>
<rect x="835.5" y="219.5" width="5" height="2.0" fill="#fff"/>
<line x1="844.5" y1="216.6" x2="844.5" y2="235.9"/>
<rect x="841.5" y="218.5" width="5" height="11.0" fill="#000"/>
<line x1="850.5" y1="220.7" x2="850.5" y2="231.7"/>
<rect x="847.5" y="221.5" width="4" height="7.0" fill="#fff"/>
<line x1="855.5" y1="209.8" x2="855.5" y2="223.8"/>
<rect x="853.5" y="215.5" width="4" height="4.0" fill="#fff"/>
<line x1="861.5" y1="212.9" x2="861.5" y2="223.7"/>
<line x1="859" y1="217.1" x2="864" y2="217.1"/>
<line x1="867.5" y1="214.0" x2="867.5" y2="222.7"/>
<rect x="865.5" y="217.5" width="4" height="2.0" fill="#fff"/>
<line x1="873.5" y1="205.1" x2="873.5" y2="221.6"/>
<rect x="871.5" y="207.5" width="4" height="8.0" fill="#fff"/>
<line x1="879.5" y1="189.3" x2="879.5" y2="210.5"/>
<rect x="876.5" y="195.5" width="5" height="12.0" fill="#fff"/>
<line x1="885.5" y1="178.8" x2="885.5" y2="194.5"/>
<rect x="882.5" y="180.5" width="5" height="14.0" fill="#fff"/>
<line x1="891.5" y1="154.0" x2="891.5" y2="185.2"/>
<rect x="888.5" y="174.5" width="4" height="5.0" fill="#fff"/>
<line x1="896.5" y1="164.1" x2="896.5" y2="182.4"/>
<rect x="894.5" y="172.5" width="4" height="3.0" fill="#000"/>
<line x1="902.5" y1="166.3" x2="902.5" y2="185.7"/>
<rect x="900.5" y="171.5" width="4" height="4.0" fill="#fff"/>
<line x1="908.5" y1="160.1" x2="908.5" y2="177.8"/>
<rect x="906.5" y="165.5" width="4" height="5.0" fill="#fff"/>
<line x1="914.5" y1="159.0" x2="914.5" y2="169.6"/>
<rect x="912.5" y="164.5" width="4" height="2.0" fill="#000"/>
<line x1="920.5" y1="150.4" x2="920.5" y2="168.7"/>
<rect x="917.5" y="150.5" width="5" height="16.0" fill="#fff"/>
<line x1="926.5" y1="135.2" x2="926.5" y2="154.6"/>
<rect x="923.5" y="138.5" width="5" height="11.0" fill="#fff"/>
<line x1="932.5" y1="111.0" x2="932.5" y2="137.5"/>
<rect x="929.5" y="125.5" width="4" height="12.0" fill="#fff"/>
<line x1="937.5" y1="119.8" x2="937.5" y2="135.7"/>
<line x1="935" y1="124.7" x2="940" y2="124.7"/>
<line x1="943.5" y1="116.1" x2="943.5" y2="153.1"/>
<rect x="941.5" y="124.5" width="4" height="5.0" fill="#000"/>
<line x1="949.5" y1="122.9" x2="949.5" y2="162.6"/>
<rect x="947.5" y="130.5" width="4" height="1.0" fill="#000"/>
<line x1="955.5" y1="113.7" x2="955.5" y2="142.1"/>
<rect x="952.5" y="125.5" width="5" height="5.0" fill="#fff"/>
<line x1="961.5" y1="116.1" x2="961.5" y2="133.3"/>
<rect x="958.5" y="124.5" width="5" height="1.0" fill="#000"/>
<line x1="967.5" y1="112.3" x2="967.5" y2="127.8"/>
<rect x="964.5" y="115.5" width="4" height="9.0" fill="#fff"/>
<line x1="972.5" y1="90.3" x2="972.5" y2="117.5"/>
<rect x="970.5" y="104.5" width="4" height="9.0" fill="#fff"/>
<line x1="978.5" y1="97.2" x2="978.5" y2="110.2"/>
<rect x="976.5" y="102.5" width="4" height="2.0" fill="#fff"/>
<line x1="984.5" y1="86.2" x2="984.5" y2="102.2"/>
<rect x="982.5" y="88.5" width="4" height="13.0" fill="#fff"/>
<line x1="990.5" y1="81.1" x2="990.5" y2="97.2"/>
<rect x="988.5" y="82.5" width="4" height="6.0" fill="#fff"/>
<line x1="996.5" y1="72.0" x2="996.5" y2="82.4"/>
<rect x="993.5" y="72.5" width="5" height="9.0" fill="#fff"/>
<line x1="1002.5" y1="69.8" x2="1002.5" y2="82.9"/>
<rect x="999.5" y="71.5" width="5" height="1.0" fill="#000"/>
<line x1="1008.5" y1="60.0" x2="1008.5" y2="73.8"/>
<rect x="1005.5" y="67.5" width="4" height="4.0" fill="#fff"/>
<line x1="1013.5" y1="35.0" x2="1013.5" y2="68.3"/>
<rect x="1011.5" y="56.5" width="4" height="9.0" fill="#fff"/>
<line x1="1019.5" y1="43.0" x2="1019.5" y2="64.6"/>
<rect x="1017.5" y="56.5" width="4" height="5.0" fill="#000"/>
<line x1="1025.5" y1="44.1" x2="1025.5" y2="61.0"/>
<rect x="1023.5" y="53.5" width="4" height="7.0" fill="#fff"/>
<line x1="1031.5" y1="52.2" x2="1031.5" y2="64.6"/>
<rect x="1029.5" y="53.5" width="4" height="5.0" fill="#000"/>
<line x1="1037.5" y1="43.6" x2="1037.5" y2="61.9"/>
<rect x="1034.5" y="45.5" width="5" height="13.0" fill="#fff"/>
<line x1="1043.5" y1="43.6" x2="1043.5" y2="55.5"/>
<rect x="1040.5" y="45.5" width="5" height="7.0" fill="#000"/>
<line x1="1049.5" y1="50.9" x2="1049.5" y2="61.7"/>
<rect x="1046.5" y="52.5" width="4" height="6.0" fill="#000"/>
<line x1="1054.5" y1="58.2" x2="1054.5" y2="95.8"/>
<rect x="1052.5" y="58.5" width="4" height="32.0" fill="#000"/>
<line x1="1060.5" y1="71.1" x2="1060.5" y2="92.5"/>
<rect x="1058.5" y="81.5" width="4" height="9.0" fill="#fff"/>
<line x1="1066.5" y1="77.1" x2="1066.5" y2="95.0"/>
<rect x="1064.5" y="81.5" width="4" height="11.0" fill="#000"/>
<line x1="1072.5" y1="75.2" x2="1072.5" y2="93.7"/>
<rect x="1070.5" y="86.5" width="4" height="6.0" fill="#fff"/>
<line x1="1078.5" y1="80.0" x2="1078.5" y2="89.6"/>
<rect x="1075.5" y="82.5" width="5" height="3.0" fill="#fff"/>
<line x1="1084.5" y1="79.0" x2="1084.5" y2="92.8"/>
<rect x="1081.5" y="81.5" width="5" height="11.0" fill="#000"/>
<line x1="1089.5" y1="86.9" x2="1089.5" y2="100.5"/>
<rect x="1087.5" y="93.5" width="4" height="2.0" fill="#000"/>
<line x1="1095.5" y1="81.9" x2="1095.5" y2="99.8"/>
<line x1="1093" y1="95.7" x2="1098" y2="95.7"/>
<line x1="1101.5" y1="90.0" x2="1101.5" y2="98.1"/>
<rect x="1099.5" y="95.5" width="4" height="1.0" fill="#000"/>
<line x1="1107.5" y1="95.1" x2="1107.5" y2="107.6"/>
<rect x="1105.5" y="96.5" width="4" height="6.0" fill="#000"/>
<line x1="1113.5" y1="93.7" x2="1113.5" y2="110.5"/>
<rect x="1110.5" y="102.5" width="5" height="4.0" fill="#000"/>
<line x1="1119.5" y1="84.0" x2="1119.5" y2="108.6"/>
<rect x="1116.5" y="89.5" width="5" height="19.0" fill="#fff"/>
<line x1="1125.5" y1="77.1" x2="1125.5" y2="93.7"/>
<rect x="1122.5" y="81.5" width="4" height="7.0" fill="#fff"/>
<line x1="1130.5" y1="76.1" x2="1130.5" y2="84.0"/>
<rect x="1128.5" y="81.5" width="4" height="1.0" fill="#000"/>
<line x1="1136.5" y1="80.0" x2="1136.5" y2="101.6"/>
<rect x="1134.5" y="81.5" width="4" height="17.0" fill="#000"/>
<line x1="1142.5" y1="85.9" x2="1142.5" y2="98.4"/>
<rect x="1140.5" y="88.5" width="4" height="9.0" fill="#fff"/>
<line x1="1148.5" y1="83.4" x2="1148.5" y2="91.8"/>
<rect x="1146.5" y="88.5" width="4" height="1.0" fill="#000"/>
<line x1="1154.5" y1="77.1" x2="1154.5" y2="92.8"/>
<rect x="1151.5" y="86.5" width="5" height="2.0" fill="#fff"/>
<line x1="1160.5" y1="82.2" x2="1160.5" y2="89.6"/>
<rect x="1157.5" y="83.5" width="5" height="2.0" fill="#fff"/>
<line x1="1166.5" y1="77.1" x2="1166.5" y2="83.0"/>
<rect x="1163.5" y="81.5" width="4" height="2.0" fill="#fff"/>
<line x1="1171.5" y1="77.1" x2="1171.5" y2="88.8"/>
<rect x="1169.5" y="80.5" width="4" height="7.0" fill="#000"/>
<line x1="1177.5" y1="85.9" x2="1177.5" y2="96.9"/>
<rect x="1175.5" y="88.5" width="4" height="5.0" fill="#000"/>
<line x1="1183.5" y1="84.0" x2="1183.5" y2="94.7"/>
<rect x="1181.5" y="85.5" width="4" height="8.0" fill="#fff"/>
<line x1="1189.5" y1="80.0" x2="1189.5" y2="85.6"/>
<rect x="1187.5" y="82.5" width="4" height="3.0" fill="#fff"/>
</g>
<g stroke="#ff00ff" stroke-width="1.1" fill="none" stroke-linecap="round">
<line x1="60.5" y1="523.3" x2="200.5" y2="415.5"/>
<line x1="118.8" y1="479.8" x2="276.8" y2="278.4"/>
<line x1="259.2" y1="296.2" x2="294.7" y2="170.2"/>
<line x1="289.8" y1="155.9" x2="726.0" y2="276.5"/>
<line x1="305.6" y1="256.6" x2="774.5" y2="283.5"/>
<line x1="768.6" y1="289.3" x2="877.5" y2="220.7"/>
<line x1="877.5" y1="220.7" x2="976.6" y2="120.6"/>
<line x1="969.3" y1="127.0" x2="1025.7" y2="59.3"/>
<line x1="1031.1" y1="39.3" x2="1212.6" y2="82.7"/>
<line x1="1020.2" y1="83.9" x2="1183.5" y2="126.1"/>
</g>
<g fill="rgba(0,215,0,0.29)" stroke="rgba(0,240,0,0.5)" stroke-width="1">
<ellipse cx="197.2" cy="384.4" rx="8.9" ry="12.4"/>
<ellipse cx="263.1" cy="290.4" rx="9.2" ry="12.5"/>
<ellipse cx="593.0" cy="234.5" rx="18.0" ry="17.4"/>
<ellipse cx="747.5" cy="266.0" rx="32.5" ry="20.9"/>
<ellipse cx="876.4" cy="219.6" rx="9.7" ry="13.2"/>
<ellipse cx="970.6" cy="124.6" rx="9.4" ry="12.5"/>
</g>
<g fill="none" stroke="#00f000" stroke-width="1.1">
<ellipse cx="267.6" cy="221.75" rx="26.3" ry="115.25"/>
<ellipse cx="996.2" cy="83" rx="23.8" ry="63"/>
</g>
<g fill="#00ee00">
<polygon points="288.2,120.8 295.9,113.4 295.9,117.1 304.2,117.1 304.2,125.2 295.9,125.2 295.9,128.5"/>
<polygon points="967.1,60.1 959.2,52.5 959.2,56.1 951,56.1 951,64.2 959.2,64.2 959.2,67.8"/>
</g>
<g class="m">
<text x="119.8" y="499.7" textLength="90.6" lengthAdjust="spacingAndGlyphs">1: steady rise</text>
<text x="241.7" y="355.4" textLength="101" lengthAdjust="spacingAndGlyphs">2: acceleration</text>
<text x="270.5" y="272.5" textLength="80.7" lengthAdjust="spacingAndGlyphs">3: parabolic</text>
<text x="833" y="266" textLength="91.6" lengthAdjust="spacingAndGlyphs">1: steady rise</text>
<text x="920.8" y="195.8" textLength="100.7" lengthAdjust="spacingAndGlyphs">2: acceleration</text>
<text x="990.1" y="122" textLength="81.2" lengthAdjust="spacingAndGlyphs">3: parabolic</text>
</g>
<g class="g">
<text x="317.4" y="117.2" textLength="236.7" lengthAdjust="spacingAndGlyphs">mega returns in phase 3 of an</text>
<text x="317.4" y="137.8" textLength="233.9" lengthAdjust="spacingAndGlyphs">uptrend (the parabolic phase)</text>
<text x="703.6" y="54.1" textLength="236.7" lengthAdjust="spacingAndGlyphs">mega returns in phase 3 of an</text>
<text x="703.6" y="74.6" textLength="233.9" lengthAdjust="spacingAndGlyphs">uptrend (the parabolic phase)</text>
</g>
<text x="30.6" y="57.8" font-weight="bold" font-size="18px" stroke="#000" stroke-width=".4" textLength="207.6" lengthAdjust="spacingAndGlyphs">INVESTINGHAVEN.COM</text>
<g class="p">
<text x="393.8" y="361" textLength="676.6" lengthAdjust="spacingAndGlyphs">The longest term gold chart is the quarterly chart on 50 years. Interestingly, this is the</text>
<text x="393.8" y="381.9" textLength="682.7" lengthAdjust="spacingAndGlyphs">easiest chart setup imaginable, taking the high level of volatility of precious metals into</text>
<text x="393.8" y="403" textLength="684.8" lengthAdjust="spacingAndGlyphs">account: 2 bull runs + 2 corrections. The 2 major bull runs (70ies and last decade) had</text>
<text x="393.8" y="423.9" textLength="701.7" lengthAdjust="spacingAndGlyphs">one very similar setup: 3 phases of the bull run characterized by a steeper run per phase</text>
<text x="393.8" y="444.7" textLength="691.9" lengthAdjust="spacingAndGlyphs">(see the numbers 1 till 3 annotated). The first correction had a pretty concise pattern as</text>
<text x="393.8" y="465.2" textLength="715.5" lengthAdjust="spacingAndGlyphs">well: a triangle pattern. The ongoing correction seems to be morphing into a giant bull flag,</text>
<text x="393.8" y="486.4" textLength="639.8" lengthAdjust="spacingAndGlyphs">or falling channel. It is pretty easy to recognize the end of the ongoing correction.</text>
</g>
<text transform="translate(16.3,13.7) scale(.82,1)" font-weight="bold" font-size="14px" stroke="#000" stroke-width=".35" letter-spacing="1">$GOLD</text>
<text x="64.1" y="12.6" font-size="10.8px" textLength="161.4" lengthAdjust="spacingAndGlyphs">Gold - Continuous Contract (EOD)</text>
<text x="230.5" y="12.6" font-size="7.8px" style="font-family:'DejaVu Sans',sans-serif" textLength="21.6" lengthAdjust="spacingAndGlyphs">CME</text>
<text x="16.3" y="25.6" font-size="9.8px" textLength="58.7" lengthAdjust="spacingAndGlyphs">14-Feb-2019</text>
<text x="1106.9" y="12.5" font-size="9.6px" fill="#444" style="font-family:'DejaVu Sans',sans-serif" textLength="89.3" lengthAdjust="spacingAndGlyphs">© StockCharts.com</text>
<text class="hb" x="694.2" y="26" textLength="27.7" lengthAdjust="spacingAndGlyphs">Open</text>
<text class="hn" x="726.7" y="26" textLength="37.1" lengthAdjust="spacingAndGlyphs">1285.00</text>
<text class="hb" x="770.7" y="26" textLength="23.1" lengthAdjust="spacingAndGlyphs">High</text>
<text class="hn" x="798.6" y="26" textLength="37.5" lengthAdjust="spacingAndGlyphs">1331.10</text>
<text class="hb" x="842.4" y="26" textLength="23.3" lengthAdjust="spacingAndGlyphs">Low</text>
<text class="hn" x="870.7" y="26" textLength="37.3" lengthAdjust="spacingAndGlyphs">1275.30</text>
<text class="hb" x="914.7" y="26" textLength="31.1" lengthAdjust="spacingAndGlyphs">Close</text>
<text class="hn" x="951" y="26" textLength="37.1" lengthAdjust="spacingAndGlyphs">1313.90</text>
<text class="hb" x="995.4" y="26" textLength="41.3" lengthAdjust="spacingAndGlyphs">Volume</text>
<text class="hn" x="1040.8" y="26" textLength="35.5" lengthAdjust="spacingAndGlyphs">642.7M</text>
<text class="hb" x="1082.9" y="26" textLength="21.0" lengthAdjust="spacingAndGlyphs">Chg</text>
<text class="hn" x="1107.9" y="26" textLength="78.3" lengthAdjust="spacingAndGlyphs">+32.60 (+2.54%)</text>
<polygon points="1189.2,25.3 1196.2,25.3 1192.7,21.3" fill="#000"/>
<polygon points="1194.3,81.8 1198.5,76.5 1239.5,76.5 1239.5,87.5 1198.5,87.5" fill="#fff" stroke="#000" stroke-width="1"/>
<text x="1199.6" y="85.9" font-weight="bold" font-size="10.8px" stroke="#000" stroke-width=".3" textLength="37.7" lengthAdjust="spacingAndGlyphs">1313.90</text>
<line x1="1190" y1="77.3" x2="1212.6" y2="82.7" stroke="#ff00ff" stroke-width="1.25" stroke-linecap="round"/>
</svg></body></html>
